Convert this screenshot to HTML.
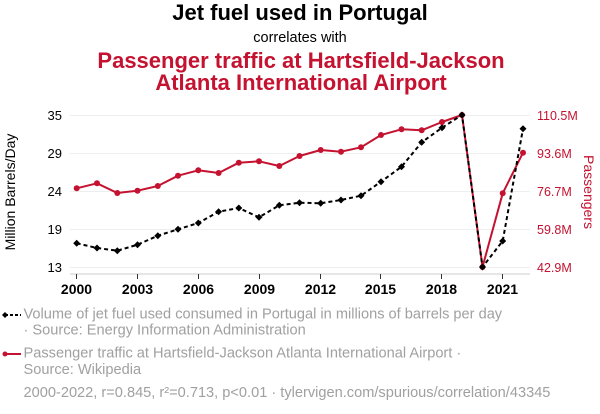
<!DOCTYPE html>
<html>
<head>
<meta charset="utf-8">
<style>
html,body{margin:0;padding:0;background:#fff;}
body{width:600px;height:414px;overflow:hidden;}
svg{display:block;font-family:"Liberation Sans",Arial,sans-serif;}
</style>
</head>
<body>
<svg width="600" height="414" viewBox="0 0 600 414" xmlns="http://www.w3.org/2000/svg">
  <!-- Titles -->
  <text x="300" y="20" text-anchor="middle" font-size="22" font-weight="bold" fill="#000">Jet fuel used in Portugal</text>
  <text x="300" y="42" text-anchor="middle" font-size="14.5" fill="#000">correlates with</text>
  <text x="301" y="68" text-anchor="middle" font-size="22" font-weight="bold" fill="#c41230">Passenger traffic at Hartsfield-Jackson</text>
  <text x="301" y="90" text-anchor="middle" font-size="22" font-weight="bold" fill="#c41230">Atlanta International Airport</text>

  <!-- gridlines -->
  <g stroke="#eeeeee" stroke-width="1">
    <line x1="70" y1="115.5" x2="530" y2="115.5"/>
    <line x1="70" y1="153.5" x2="530" y2="153.5"/>
    <line x1="70" y1="191.5" x2="530" y2="191.5"/>
    <line x1="70" y1="229.5" x2="530" y2="229.5"/>
    <line x1="70" y1="267.5" x2="530" y2="267.5"/>
  </g>
  <!-- x axis -->
  <line x1="70" y1="274" x2="530" y2="274" stroke="#cccccc" stroke-width="1"/>
  <g stroke="#333" stroke-width="1">
    <line x1="76.5" y1="274" x2="76.5" y2="279"/>
    <line x1="137.5" y1="274" x2="137.5" y2="279"/>
    <line x1="198.5" y1="274" x2="198.5" y2="279"/>
    <line x1="259.5" y1="274" x2="259.5" y2="279"/>
    <line x1="320.5" y1="274" x2="320.5" y2="279"/>
    <line x1="380.5" y1="274" x2="380.5" y2="279"/>
    <line x1="441.5" y1="274" x2="441.5" y2="279"/>
    <line x1="502.5" y1="274" x2="502.5" y2="279"/>
  </g>
  <g font-size="14" font-weight="bold" fill="#000" text-anchor="middle">
    <text x="76.5" y="294">2000</text>
    <text x="137.5" y="294">2003</text>
    <text x="198.5" y="294">2006</text>
    <text x="259.5" y="294">2009</text>
    <text x="320.5" y="294">2012</text>
    <text x="380.5" y="294">2015</text>
    <text x="441.5" y="294">2018</text>
    <text x="502.5" y="294">2021</text>
  </g>

  <!-- left axis labels -->
  <g font-size="13" fill="#000" text-anchor="end">
    <text x="62" y="120">35</text>
    <text x="62" y="158">29</text>
    <text x="62" y="196">24</text>
    <text x="62" y="234">19</text>
    <text x="62" y="272">13</text>
  </g>
  <text transform="translate(15,192) rotate(-90)" text-anchor="middle" font-size="14" fill="#000">Million Barrels/Day</text>

  <!-- right axis labels -->
  <g font-size="12.5" fill="#c41230" text-anchor="start">
    <text x="537" y="120">110.5M</text>
    <text x="537" y="158">93.6M</text>
    <text x="537" y="196">76.7M</text>
    <text x="537" y="234">59.8M</text>
    <text x="537" y="272">42.9M</text>
  </g>
  <text transform="translate(584,192) rotate(90)" text-anchor="middle" font-size="14" fill="#c41230">Passengers</text>

  <!-- red series -->
  <polyline fill="none" stroke="#c41230" stroke-width="2" stroke-linejoin="round"
    points="76.7,188.3 97,183.3 117.3,193 137.5,190.7 157.8,186 178,175.7 198.3,170.3 218.6,173 238.8,162.7 259,161.3 279.3,166 299.5,156 320.7,150 341,151.7 361,147.3 381,135 401.5,129.3 421.7,130.3 442,122 462,115 482.5,267 502.7,193.3 523,152.7"/>
  <g fill="#c41230">
    <circle cx="76.7" cy="188.3" r="3"/>
    <circle cx="97" cy="183.3" r="3"/>
    <circle cx="117.3" cy="193" r="3"/>
    <circle cx="137.5" cy="190.7" r="3"/>
    <circle cx="157.8" cy="186" r="3"/>
    <circle cx="178" cy="175.7" r="3"/>
    <circle cx="198.3" cy="170.3" r="3"/>
    <circle cx="218.6" cy="173" r="3"/>
    <circle cx="238.8" cy="162.7" r="3"/>
    <circle cx="259" cy="161.3" r="3"/>
    <circle cx="279.3" cy="166" r="3"/>
    <circle cx="299.5" cy="156" r="3"/>
    <circle cx="320.7" cy="150" r="3"/>
    <circle cx="341" cy="151.7" r="3"/>
    <circle cx="361" cy="147.3" r="3"/>
    <circle cx="381" cy="135" r="3"/>
    <circle cx="401.5" cy="129.3" r="3"/>
    <circle cx="421.7" cy="130.3" r="3"/>
    <circle cx="442" cy="122" r="3"/>
    <circle cx="462" cy="115" r="3"/>
    <circle cx="482.5" cy="267" r="3"/>
    <circle cx="502.7" cy="193.3" r="3"/>
    <circle cx="523" cy="152.7" r="3"/>
  </g>

  <!-- black series -->
  <polyline fill="none" stroke="#000" stroke-width="2" stroke-dasharray="4,3"
    points="76.7,243.3 97,248 117.3,250.7 137.5,244.7 157.8,235.7 178,229.3 198.3,223 218.6,211.7 238.8,208 259,217.3 279.3,205.3 299.5,202.7 320.7,203.3 341,200 361,195.7 381,181.7 401.5,166.7 421.7,142.3 442,127.7 462,115 482.5,267 502.7,241 523,128.7"/>
  <g fill="#000">
    <path d="M76.7,239.8 l3.5,3.5 l-3.5,3.5 l-3.5,-3.5z"/>
    <path d="M97,244.5 l3.5,3.5 l-3.5,3.5 l-3.5,-3.5z"/>
    <path d="M117.3,247.2 l3.5,3.5 l-3.5,3.5 l-3.5,-3.5z"/>
    <path d="M137.5,241.2 l3.5,3.5 l-3.5,3.5 l-3.5,-3.5z"/>
    <path d="M157.8,232.2 l3.5,3.5 l-3.5,3.5 l-3.5,-3.5z"/>
    <path d="M178,225.8 l3.5,3.5 l-3.5,3.5 l-3.5,-3.5z"/>
    <path d="M198.3,219.5 l3.5,3.5 l-3.5,3.5 l-3.5,-3.5z"/>
    <path d="M218.6,208.2 l3.5,3.5 l-3.5,3.5 l-3.5,-3.5z"/>
    <path d="M238.8,204.5 l3.5,3.5 l-3.5,3.5 l-3.5,-3.5z"/>
    <path d="M259,213.8 l3.5,3.5 l-3.5,3.5 l-3.5,-3.5z"/>
    <path d="M279.3,201.8 l3.5,3.5 l-3.5,3.5 l-3.5,-3.5z"/>
    <path d="M299.5,199.2 l3.5,3.5 l-3.5,3.5 l-3.5,-3.5z"/>
    <path d="M320.7,199.8 l3.5,3.5 l-3.5,3.5 l-3.5,-3.5z"/>
    <path d="M341,196.5 l3.5,3.5 l-3.5,3.5 l-3.5,-3.5z"/>
    <path d="M361,192.2 l3.5,3.5 l-3.5,3.5 l-3.5,-3.5z"/>
    <path d="M381,178.2 l3.5,3.5 l-3.5,3.5 l-3.5,-3.5z"/>
    <path d="M401.5,163.2 l3.5,3.5 l-3.5,3.5 l-3.5,-3.5z"/>
    <path d="M421.7,138.8 l3.5,3.5 l-3.5,3.5 l-3.5,-3.5z"/>
    <path d="M442,124.2 l3.5,3.5 l-3.5,3.5 l-3.5,-3.5z"/>
    <path d="M462,111.5 l3.5,3.5 l-3.5,3.5 l-3.5,-3.5z"/>
    <path d="M482.5,263.5 l3.5,3.5 l-3.5,3.5 l-3.5,-3.5z"/>
    <path d="M502.7,237.5 l3.5,3.5 l-3.5,3.5 l-3.5,-3.5z"/>
    <path d="M523,125.2 l3.5,3.5 l-3.5,3.5 l-3.5,-3.5z"/>
  </g>

  <!-- legend -->
  <line x1="5" y1="315" x2="21" y2="315" stroke="#000" stroke-width="2" stroke-dasharray="3,2"/>
  <path d="M5,312 l3,3 l-3,3 l-3,-3z" fill="#000"/>
  <line x1="5" y1="354" x2="21" y2="354" stroke="#c41230" stroke-width="2"/>
  <circle cx="5" cy="354" r="2.5" fill="#c41230"/>
  <g font-size="14.6" fill="#a0a0a0">
    <text x="23.5" y="318.5">Volume of jet fuel used consumed in Portugal in millions of barrels per day</text>
    <text x="23.5" y="334.5">· Source: Energy Information Administration</text>
    <text x="23.5" y="357.5">Passenger traffic at Hartsfield-Jackson Atlanta International Airport ·</text>
    <text x="23.5" y="374">Source: Wikipedia</text>
    <text x="23.5" y="397">2000-2022, r=0.845, r²=0.713, p&lt;0.01 · tylervigen.com/spurious/correlation/43345</text>
  </g>
</svg>
</body>
</html>
